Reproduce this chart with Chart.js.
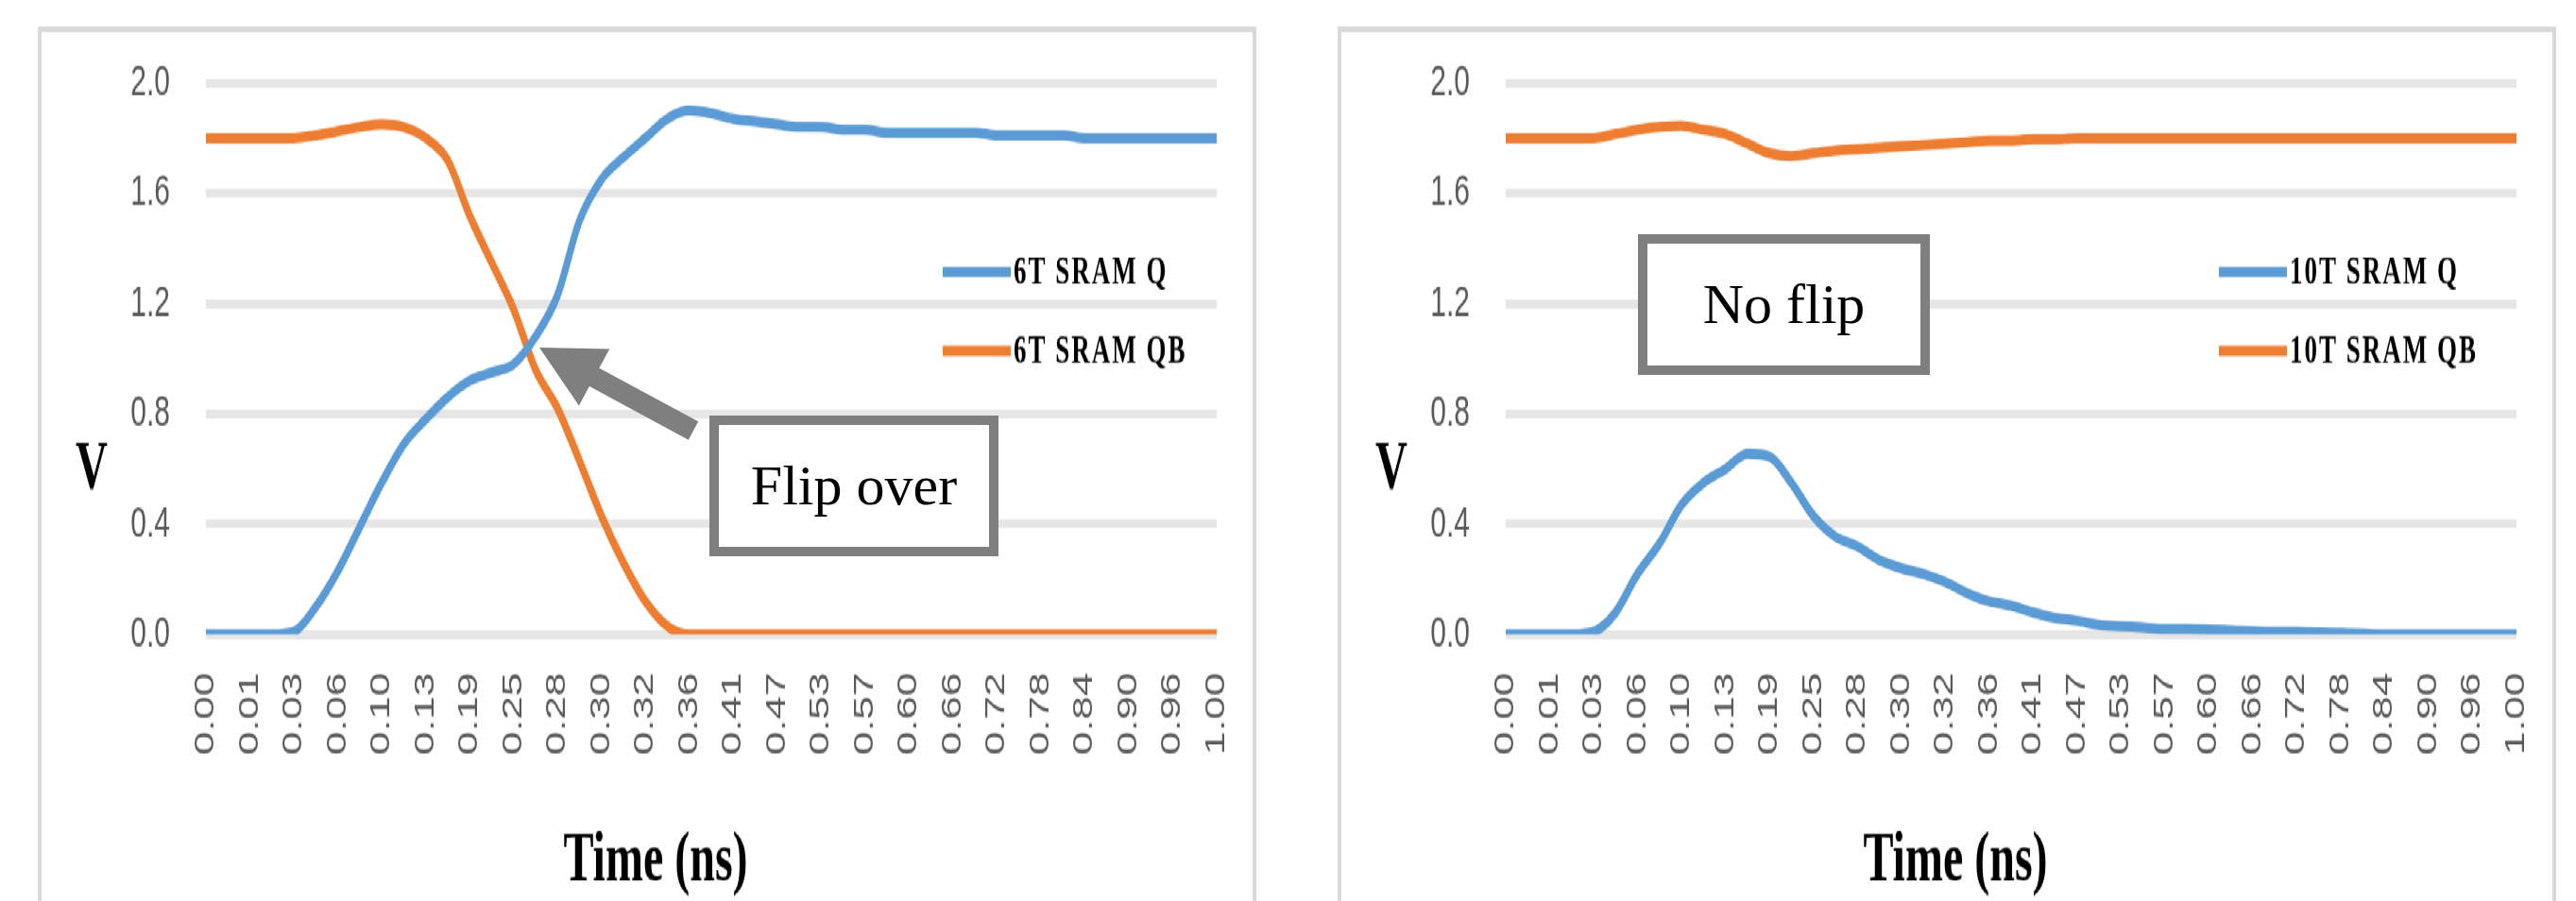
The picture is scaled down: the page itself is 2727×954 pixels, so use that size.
<!DOCTYPE html>
<html>
<head>
<meta charset="utf-8">
<script src="https://cdn.jsdelivr.net/npm/chart.js@4.4.1/dist/chart.umd.min.js"></script>
<style>
  html, body { margin: 0; padding: 0; background: #fff; overflow: hidden; width: 2727px; height: 954px; }
  #stage { position: absolute; left: 0; top: 0; width: 2727px; height: 954px; overflow: hidden; }
  /* charts are laid out on a short canvas and stretched to full height */
  #charts { position: absolute; left: 0; top: 0; width: 2727px; height: 616px; transform: scaleY(1.5487); transform-origin: 0 0; }
  .panel { position: absolute; top: 18.1px; width: 1290px; height: 620px; box-sizing: border-box;
           border: 4px solid #d9d9d9; border-bottom: none; background: #fff; }
  .panel canvas { display: block; }
  #left { left: 40px; }
  #right { left: 1416px; }
  .note { position: absolute; box-sizing: border-box; border: 10px solid #7f7f7f; background: #fff;
          display: flex; align-items: center; justify-content: center;
          font-family: "Times New Roman", "Liberation Serif", serif; font-size: 60px; color: #000; }
  #arrow { position: absolute; left: 0; top: 0; }
</style>
</head>
<body>
<div id="stage">
  <div id="charts">
    <div class="panel" id="left"><canvas id="c6t" width="1282" height="600"></canvas></div>
    <div class="panel" id="right"><canvas id="c10t" width="1282" height="600"></canvas></div>
  </div>
  <svg id="arrow" width="2727" height="954">
    <polygon points="571,368 645.3,369.4 634.3,389.7 739.2,446.3 728.8,465.7 623.9,409.1 612.9,429.4" fill="#7f7f7f"/>
  </svg>
  <div class="note" style="left:751px; top:440px; width:306px; height:149px;">Flip over</div>
  <div class="note" style="left:1734px; top:248px; width:309px; height:149px;">No flip</div>
</div>
<script>
// Time axis labels (ns), one per labelled sample
const tickLabels = ['0.00','0.01','0.03','0.06','0.10','0.13','0.19','0.25','0.28','0.30','0.32','0.36',
                    '0.41','0.47','0.53','0.57','0.60','0.66','0.72','0.78','0.84','0.90','0.96','1.00'];
// Samples are taken twice per labelled step (sample 2*i sits on tickLabels[i])
const samplesPerLabel = 2;

// 6T SRAM node voltages (V)
const q6T = [0, 0, 0, 0, 0.01, 0.10, 0.23, 0.39, 0.55, 0.69, 0.78, 0.86, 0.92, 0.95, 0.98, 1.08,
             1.23, 1.50, 1.65, 1.73, 1.80, 1.87, 1.90, 1.89, 1.87, 1.86, 1.85, 1.84, 1.84, 1.83, 1.83,
             1.82, 1.82, 1.82, 1.82, 1.82, 1.81, 1.81, 1.81, 1.81, 1.80, 1.80, 1.80, 1.80, 1.80, 1.80, 1.80];
const qb6T = [1.80, 1.80, 1.80, 1.80, 1.80, 1.81, 1.825, 1.84, 1.85, 1.84, 1.80, 1.72, 1.52, 1.35, 1.18, 0.96,
              0.82, 0.63, 0.43, 0.26, 0.12, 0.03, 0, 0, 0, 0, 0, 0, 0, 0, 0,
              0, 0, 0, 0, 0, 0, 0, 0, 0, 0, 0, 0, 0, 0, 0, 0];

// 10T SRAM node voltages (V)
const q10T = [0, 0, 0, 0, 0.01, 0.08, 0.22, 0.33, 0.47, 0.55, 0.60, 0.655, 0.645, 0.55, 0.43, 0.355,
              0.32, 0.27, 0.24, 0.22, 0.19, 0.15, 0.12, 0.105, 0.08, 0.06, 0.05, 0.035, 0.03, 0.025, 0.02,
              0.02, 0.018, 0.015, 0.012, 0.01, 0.01, 0.007, 0.005, 0.003, 0, 0, 0, 0, 0, 0, 0];
const qb10T = [1.80, 1.80, 1.80, 1.80, 1.80, 1.815, 1.83, 1.84, 1.845, 1.83, 1.815, 1.78, 1.745, 1.735, 1.745, 1.755,
               1.76, 1.765, 1.77, 1.775, 1.78, 1.785, 1.79, 1.79, 1.795, 1.795, 1.80, 1.80, 1.80, 1.80, 1.80,
               1.80, 1.80, 1.80, 1.80, 1.80, 1.80, 1.80, 1.80, 1.80, 1.80, 1.80, 1.80, 1.80, 1.80, 1.80, 1.80];

const yTicks = [0, 0.4, 0.8, 1.2, 1.6, 2.0];

const BLUE = '#5b9bd5';
const ORANGE = '#ed7d31';
const LINE_WIDTH = 7;
const SERIF = '"Times New Roman", "Liberation Serif", serif';
const SANS = '"Liberation Sans", Arial, sans-serif';

// Axis titles and an in-plot legend
const panelText = {
  id: 'panelText',
  afterDraw(chart, args, opts) {
    const ctx = chart.ctx;
    ctx.save();
    ctx.fillStyle = '#000';
    ctx.textAlign = 'center';
    ctx.textBaseline = 'alphabetic';
    ctx.font = 'bold 48px ' + SERIF;
    ctx.fillText('Time (ns)', opts.xTitleX, 579.7);
    ctx.font = 'bold 47px ' + SERIF;
    ctx.fillText('V', 53, 312.4);

    const ys = [163.9, 218.1];
    chart.data.datasets.forEach((ds, i) => {
      const y = ys[i];
      ctx.strokeStyle = ds.borderColor;
      ctx.lineWidth = LINE_WIDTH;
      ctx.lineCap = 'butt';
      ctx.beginPath();
      ctx.moveTo(opts.legendX, y);
      ctx.lineTo(opts.legendX + 72, y);
      ctx.stroke();
      ctx.font = 'bold 27px ' + SERIF;
      ctx.letterSpacing = '2px';
      ctx.textAlign = 'left';
      ctx.textBaseline = 'middle';
      ctx.fillStyle = '#000';
      ctx.fillText(ds.label, opts.legendX + 75, y + 1);
      ctx.letterSpacing = '0px';
    });
    ctx.restore();
  }
};

function series(values) {
  return values.map((v, i) => ({ x: i, y: v }));
}

function makeChart(id, names, qVals, qbVals, legendX) {
  const lastSample = (tickLabels.length - 1) * samplesPerLabel;
  return new Chart(document.getElementById(id), {
    type: 'line',
    data: {
      datasets: [
        { label: names[0], data: series(qVals), borderColor: BLUE, backgroundColor: BLUE },
        { label: names[1], data: series(qbVals), borderColor: ORANGE, backgroundColor: ORANGE }
      ]
    },
    plugins: [panelText],
    options: {
      responsive: false,
      animation: false,
      devicePixelRatio: 1,
      layout: { padding: { top: 34.7, right: 38, left: 0, bottom: 0 } },
      elements: {
        line: { borderWidth: LINE_WIDTH, cubicInterpolationMode: 'monotone', borderCapStyle: 'round', borderJoinStyle: 'round' },
        point: { radius: 0, hoverRadius: 0 }
      },
      plugins: {
        legend: { display: false },
        tooltip: { enabled: false },
        panelText: { legendX: legendX, xTitleX: 650 }
      },
      scales: {
        x: {
          type: 'linear',
          min: 0,
          max: lastSample,
          grid: { display: false, drawTicks: false },
          border: { display: false },
          afterFit(scale) {
            scale.height = 188.2;
            scale.paddingLeft = 0;
            scale.paddingRight = 0;
          },
          ticks: {
            stepSize: samplesPerLabel,
            autoSkip: false,
            minRotation: 90,
            maxRotation: 90,
            padding: 26,
            color: '#595959',
            font: { family: SANS, size: 29 },
            callback: (v) => tickLabels[Math.round(v / samplesPerLabel)]
          }
        },
        y: {
          min: yTicks[0],
          max: yTicks[yTicks.length - 1],
          afterFit(scale) {
            scale.width = 174;
            scale.paddingTop = 0;
            scale.paddingBottom = 0;
          },
          afterBuildTicks(scale) { scale.ticks = yTicks.map(v => ({ value: v })); },
          grid: { color: '#e6e6e6', lineWidth: 6, drawTicks: false },
          border: { display: false },
          ticks: {
            padding: 38,
            color: '#595959',
            font: { family: SANS, size: 30 },
            callback: (v) => Number(v).toFixed(1)
          }
        }
      }
    }
  });
}

makeChart('c6t', ['6T SRAM Q', '6T SRAM QB'], q6T, qb6T, 954);
makeChart('c10t', ['10T SRAM Q', '10T SRAM QB'], q10T, qb10T, 929);
</script>
</body>
</html>
